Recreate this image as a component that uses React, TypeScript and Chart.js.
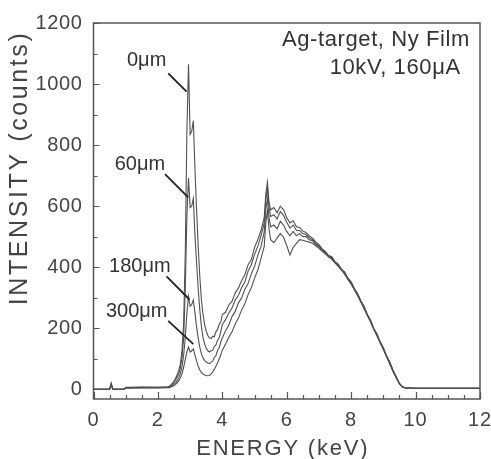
import React, { useEffect, useRef } from "react";
import { Chart, registerables } from "chart.js";

Chart.register(...registerables);

// Energy grid (keV)
const energy = [
  0, 0.5, 0.55, 0.6, 0.95, 1.0, 1.5, 2.0, 2.3,
  2.35, 2.4, 2.45, 2.5, 2.55, 2.6, 2.65, 2.7, 2.75, 2.8, 2.85, 2.9, 2.95, 3.0, 3.05, 3.1, 3.15, 3.2, 3.25, 3.3, 3.35, 3.4, 3.45, 3.5, 3.55, 3.6, 3.65, 3.7, 3.75, 3.8, 3.85, 3.9, 3.95, 4.0,
  4.1, 4.2, 4.3, 4.4, 4.5, 4.6, 4.7, 4.8, 4.9, 5.0, 5.1, 5.2, 5.3,
  5.35, 5.4, 5.45, 5.5,
  5.6, 5.7, 5.8, 5.9, 6.0, 6.1, 6.2, 6.3, 6.4, 6.5, 6.6, 6.7, 6.8, 6.9, 7.0, 7.1, 7.2, 7.3, 7.4, 7.5, 7.6, 7.7, 7.8, 7.9, 8.0, 8.1, 8.2, 8.3, 8.4, 8.5, 8.6, 8.7, 8.8, 8.9, 9.0, 9.1, 9.2, 9.3, 9.4, 9.5, 9.6, 9.7,
  9.8, 10, 11, 12,
];

const counts0um = [
  0, 0, 20, 0, 0, 6, 7, 6, 8,
  10, 14, 20, 27, 36, 48, 62, 85, 130, 220, 450, 850, 1065, 835, 845, 880, 720, 590, 470, 370, 295, 245, 212, 190, 176, 168, 166, 174, 172, 188, 196, 212, 220, 245,
  252, 276, 288, 315, 332, 356, 375, 408, 425, 465, 490, 520, 562,
  640, 678, 612, 588,
  595, 578, 600, 588, 562, 545, 552, 532, 530, 518, 514, 502, 495, 483, 474, 460, 452, 438, 434, 418, 410, 393, 384, 364, 352, 330, 314, 290, 272, 246, 227, 200, 182, 156, 136, 110, 89, 62, 41, 19, 8, 4,
  4, 3, 3, 3,
];

const counts60um = [
  0, 0, 18, 0, 0, 5, 6, 6, 7,
  8, 11, 16, 22, 30, 40, 52, 72, 105, 170, 330, 570, 692, 595, 600, 625, 505, 415, 330, 260, 205, 170, 148, 134, 126, 122, 126, 128, 140, 145, 160, 168, 188, 212,
  228, 250, 266, 292, 308, 333, 352, 387, 408, 442, 468, 502, 545,
  622, 658, 594, 566,
  572, 558, 582, 570, 547, 528, 538, 520, 520, 510, 507, 496, 490, 478, 470, 458, 450, 436, 432, 416, 408, 392, 382, 362, 350, 328, 312, 288, 270, 244, 226, 198, 180, 154, 134, 108, 88, 60, 40, 18, 7, 4,
  4, 3, 3, 3,
];

const counts180um = [
  0, 0, 15, 0, 0, 4, 5, 5, 6,
  7, 9, 12, 16, 21, 28, 38, 52, 75, 112, 170, 250, 305, 272, 278, 292, 250, 205, 168, 138, 116, 102, 94, 89, 86, 84, 89, 92, 104, 110, 126, 136, 154, 168,
  192, 210, 238, 255, 283, 300, 328, 346, 378, 402, 438, 468, 515,
  588, 625, 562, 532,
  538, 525, 550, 538, 517, 503, 517, 503, 510, 500, 500, 490, 487, 474, 468, 454, 448, 434, 430, 414, 406, 390, 380, 360, 348, 326, 310, 286, 268, 242, 224, 197, 178, 152, 133, 106, 86, 58, 39, 17, 7, 4,
  4, 3, 3, 3,
];

const counts300um = [
  0, 0, 12, 0, 0, 3, 4, 4, 5,
  5, 7, 9, 12, 16, 21, 28, 38, 52, 72, 98, 122, 138, 122, 126, 132, 112, 92, 75, 63, 55, 50, 47, 45, 44, 45, 50, 57, 65, 75, 86, 98, 112, 128,
  148, 170, 188, 214, 233, 260, 280, 310, 333, 364, 390, 428, 468,
  545, 585, 525, 490,
  480, 495, 510, 498, 470, 440, 465, 478, 490, 488, 485, 482, 478, 470, 462, 452, 443, 434, 425, 414, 402, 390, 376, 360, 344, 326, 306, 286, 264, 242, 220, 197, 174, 152, 129, 106, 82, 59, 36, 17, 6, 4,
  4, 3, 3, 3,
];

const seriesNames = ["0μm", "60μm", "180μm", "300μm"];
const seriesValues = [counts0um, counts60um, counts180um, counts300um];
const xTickValues = [0, 2, 4, 6, 8, 10, 12];
const yTickValues = [0, 200, 400, 600, 800, 1000, 1200];
const infoLines = ["Ag-target, Ny Film", "10kV, 160μA"];
const xTitle = "ENERGY (keV)";
const yTitle = "INTENSITY (counts)";

// label placement (data coordinates)
const labelSpots = [
  { tx: 1.65, ty: 1077, x1: 2.32, y1: 1035, x2: 2.89, y2: 975 },
  { tx: 1.44, ty: 736, x1: 2.22, y1: 705, x2: 2.94, y2: 629 },
  { tx: 1.44, ty: 402, x1: 2.27, y1: 370, x2: 2.98, y2: 294 },
  { tx: 1.34, ty: 256, x1: 2.32, y1: 224, x2: 3.1, y2: 148 },
];
const infoSpots = [
  { x: 11.69, y: 1145 },
  { x: 11.4, y: 1054 },
];

const FONT = "'Liberation Sans', Arial, Helvetica, sans-serif";

// wrap a scale's drawing step with letter spacing and an offset
function wrapScale(scale: any, key: string, spacing: string, dx: number, dy: number) {
  const flag = "_wrapped_" + key;
  if (scale[flag]) return;
  const orig = scale[key].bind(scale);
  scale[key] = function (...args: any[]) {
    const c = scale.ctx;
    c.save();
    (c as any).letterSpacing = spacing;
    c.translate(dx, dy);
    orig(...args);
    c.restore();
  };
  scale[flag] = true;
}

const decorPlugin = {
  id: "decor",
  afterLayout(chart: any) {
    const { x, y } = chart.scales;
    wrapScale(y, "drawTitle", "2.6px", 0, -43);
    wrapScale(x, "drawTitle", "1.8px", -4, 1);
    wrapScale(x, "drawLabels", "1px", 0, 0);
    wrapScale(y, "drawLabels", "0.6px", 0, 0);
  },
  afterDatasetsDraw(chart: any) {
    const { ctx, chartArea: a, scales } = chart;
    const xs = scales.x;
    const ys = scales.y;
    ctx.save();
    // frame
    ctx.strokeStyle = "#555";
    ctx.lineWidth = 1.5;
    ctx.strokeRect(a.left, a.top, a.right - a.left, a.bottom - a.top);
    // inward ticks
    ctx.lineWidth = 1.2;
    ctx.beginPath();
    for (let i = 0; i <= 24; i++) {
      const v = i * 0.5;
      const px = Math.round(xs.getPixelForValue(v)) + 0.5;
      const len = i % 4 === 0 ? 7 : 4;
      ctx.moveTo(px, a.bottom);
      ctx.lineTo(px, a.bottom - len);
    }
    for (let i = 0; i <= 12; i++) {
      const v = i * 100;
      const py = Math.round(ys.getPixelForValue(v)) + 0.5;
      const len = i % 2 === 0 ? 6 : 4;
      ctx.moveTo(a.left, py);
      ctx.lineTo(a.left + len, py);
    }
    ctx.stroke();
    // leader lines
    ctx.strokeStyle = "#222";
    ctx.lineWidth = 1.8;
    ctx.beginPath();
    labelSpots.forEach((s) => {
      ctx.moveTo(xs.getPixelForValue(s.x1), ys.getPixelForValue(s.y1));
      ctx.lineTo(xs.getPixelForValue(s.x2), ys.getPixelForValue(s.y2));
    });
    ctx.stroke();
    // series labels
    ctx.fillStyle = "#333";
    ctx.font = `20px ${FONT}`;
    ctx.textAlign = "center";
    ctx.textBaseline = "middle";
    labelSpots.forEach((s, i) => {
      ctx.fillText(seriesNames[i], xs.getPixelForValue(s.tx), ys.getPixelForValue(s.ty));
    });
    // info text
    ctx.font = `22px ${FONT}`;
    ctx.textAlign = "right";
    (ctx as any).letterSpacing = "0.6px";
    infoLines.forEach((t, i) => {
      ctx.fillText(t, xs.getPixelForValue(infoSpots[i].x), ys.getPixelForValue(infoSpots[i].y));
    });
    ctx.restore();
  },
};

export default function App() {
  const ref = useRef<HTMLCanvasElement | null>(null);
  useEffect(() => {
    document.body.style.margin = "0";
    const canvas = ref.current;
    if (!canvas) return;
    const datasets = seriesValues.map((vals, si) => ({
      label: seriesNames[si],
      data: energy.map((e, i) => ({ x: e, y: vals[i] })),
      borderColor: "#505050",
      borderWidth: 1.1,
      pointRadius: 0,
      fill: false,
      tension: 0,
    }));
    const chart = new Chart(canvas, {
      type: "line",
      data: { datasets },
      options: {
        animation: false,
        responsive: false,
        maintainAspectRatio: false,
        layout: { padding: { top: 19, right: 0, left: 0, bottom: 0 } },
        plugins: { legend: { display: false }, tooltip: { enabled: false } },
        scales: {
          x: {
            type: "linear",
            min: 0,
            max: 12,
            grid: { display: false, drawTicks: false },
            border: { display: false },
            afterBuildTicks: (s: any) => {
              s.ticks = xTickValues.map((v) => ({ value: v }));
            },
            afterFit: (s: any) => {
              s.height = 60;
              s.paddingLeft = 0;
              s.paddingRight = 11;
            },
            ticks: {
              padding: 9,
              color: "#444",
              font: { family: FONT, size: 20 },
              maxRotation: 0,
              callback: (v: any) => String(v),
            },
            title: {
              display: true,
              text: xTitle,
              color: "#444",
              font: { family: FONT, size: 22, lineHeight: 1 },
              padding: { top: 0, bottom: 0 },
            },
          },
          y: {
            type: "linear",
            min: -32,
            max: 1200,
            grid: { display: false, drawTicks: false },
            border: { display: false },
            afterBuildTicks: (s: any) => {
              s.ticks = yTickValues.map((v) => ({ value: v }));
            },
            afterFit: (s: any) => {
              s.width = 93.5;
            },
            ticks: {
              padding: 11,
              color: "#444",
              font: { family: FONT, size: 20 },
              callback: (v: any) => String(v),
            },
            title: {
              display: true,
              text: yTitle,
              color: "#444",
              font: { family: FONT, size: 25, lineHeight: 1 },
              padding: { top: 8, bottom: 0 },
            },
          },
        },
      },
      plugins: [decorPlugin],
    } as any);
    return () => chart.destroy();
  }, []);
  return <canvas ref={ref} width={491} height={459} style={{ display: "block" }} />;
}
